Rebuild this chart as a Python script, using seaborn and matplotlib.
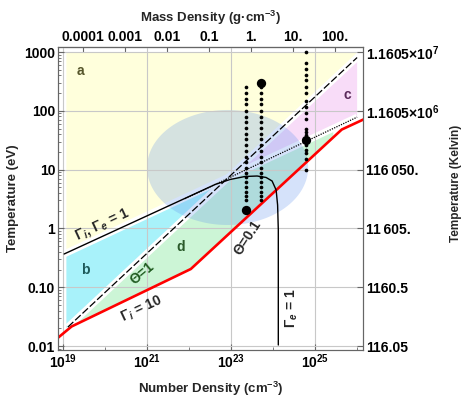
import numpy as np
import pandas as pd
import seaborn as sns
import matplotlib.pyplot as plt
from matplotlib.ticker import FixedLocator, FixedFormatter, NullLocator, LogLocator, NullFormatter

# boundary lines (n in cm^-3, T in eV)
gamma10_n = [7.2e18, 1.6e19, 1.1e22, 4.3e25, 1.4e26]
gamma10_T = [0.0134, 0.0215, 0.204, 48, 71]

theta1_n = [1.3e19, 1.0e26]
theta1_T = [0.021, 805]

gammae_n = [1.06e19, 4.16e22, 9.46e22, 2.15e23, 4.16e23, 6.81e23, 9.46e23, 1.18e24, 1.28e24, 1.33e24, 1.33e24]
gammae_T = [0.367, 5.58, 6.79, 7.64, 7.78, 7.35, 6.40, 4.50, 2.50, 0.94, 0.0104]

gammai_n = [8.0e21, 1.0e26]
gammai_T = [3.2, 78]

# white separators under the lines
sep_gamma_n = [1.06e19, 1.0e26]
sep_gamma_T = [0.367, 78]
sep_theta_n = [1.3e19, 1.37e26]
sep_theta_T = [0.021, 1000]

# regions
a_n = [1.2e19, 1.2e19, 1.37e26, 8.7e22]
a_T = [0.38, 1000, 1000, 7.4]
b_n = [1.2e19, 1.2e19, 8.7e22]
b_T = [0.02, 0.38, 7.4]
c_n = [8.7e22, 1.0e26, 1.0e26]
c_T = [7.4, 805, 78]
d_n = [1.4e19, 8.7e22, 2.7e25, 2.7e25, 1.1e22, 1.6e19]
d_T = [0.021, 7.4, 50, 35.4, 0.204, 0.0215]

# ellipse (log10 n, log10 T) centre and half widths in decades
ell_center = (22.917, 1.036)
ell_radius = (1.917, 0.978)

# simulation points
col_n = [2.28e23, 5.2e23, 6.0e24]
col1_T = [257, 203, 161, 129, 100, 79, 64, 52, 41, 33, 26, 21, 16.6, 13.5, 10.8, 8.9, 7.4, 6.2, 5.1, 4.2, 3.6, 3.0]
col2_T = [257, 203, 161, 129, 100, 79, 64, 52, 41, 33, 26, 21, 16.6, 13.5, 10.8, 8.9, 7.4, 6.2, 5.1, 4.2, 3.6, 3.0]
col3_T = [988, 642, 508, 406, 334, 257, 203, 147, 117, 93, 73, 50, 44, 39, 34, 26, 21.5, 19, 15, 10]
big_n = [2.28e23, 5.2e23, 6.0e24]
big_T = [2.06, 300, 32]

T_ticks = [0.01, 0.1, 1, 10, 100, 1000]
T_labels = ["0.01", "0.10", "1", "10", "100", "1000"]
K_labels = ["116.05", "1160.5", "11\u2009605.", "116\u2009050.", "1.1605\u00d710$^{6}$", "1.1605\u00d710$^{7}$"]
n_ticks = [1e19, 1e21, 1e23, 1e25]
n_labels = ["10$^{19}$", "10$^{21}$", "10$^{23}$", "10$^{25}$"]
rho_ticks = [1e-4, 1e-3, 1e-2, 0.1, 1, 10, 100]
rho_labels = ["0.0001", "0.001", "0.01", "0.1", "1.", "10.", "100."]
n_per_rho = 3.011e23

sns.set_style("white")
plt.rcParams['font.family'] = ['Liberation Sans', 'DejaVu Sans']
plt.rcParams['font.weight'] = 'bold'
plt.rcParams['axes.labelweight'] = 'bold'
plt.rcParams['mathtext.fontset'] = 'custom'
plt.rcParams['mathtext.rm'] = 'Liberation Sans:bold'
plt.rcParams['mathtext.it'] = 'Liberation Sans:italic:bold'
plt.rcParams['mathtext.bf'] = 'Liberation Sans:bold'

fig = plt.figure(figsize=(4.69, 3.99), dpi=100)
ax = fig.add_axes([0.1237, 0.1228, 0.6503, 0.7594])
ax.set_xscale('log')
ax.set_yscale('log')
ax.set_xlim(10**18.88, 10**26.14)
ax.set_ylim(10**-2.068, 10**3.085)

ax.fill(a_n, a_T, color='#ffffdc', lw=0, zorder=1)
ax.fill(b_n, b_T, color='#a8f2fa', lw=0, zorder=1)
ax.fill(c_n, c_T, color='#f8dcf8', lw=0, zorder=1)
ax.fill(d_n, d_T, color='#ccf5d6', lw=0, zorder=1)

ax.plot(sep_gamma_n, sep_gamma_T, color='white', lw=5, zorder=1.5, solid_capstyle='butt')
ax.plot(sep_theta_n, sep_theta_T, color='white', lw=5, zorder=1.5, solid_capstyle='butt')

t = np.linspace(0, 2 * np.pi, 200)
ax.fill(10**(ell_center[0] + ell_radius[0] * np.cos(t)),
        10**(ell_center[1] + ell_radius[1] * np.sin(t)),
        color='cornflowerblue', alpha=0.27, lw=0, zorder=2)

ax.grid(True, which='major', color='#c8c8c8', lw=0.8)
ax.set_axisbelow(False)

sns.lineplot(x=gamma10_n, y=gamma10_T, ax=ax, sort=False, estimator=None, color='red', lw=1.9, zorder=4)
sns.lineplot(x=theta1_n, y=theta1_T, ax=ax, sort=False, estimator=None, color='black', lw=0.9, linestyle=(0, (6, 2)), zorder=4)
sns.lineplot(x=gammae_n, y=gammae_T, ax=ax, sort=False, estimator=None, color='black', lw=1.0, zorder=4)
sns.lineplot(x=gammai_n, y=gammai_T, ax=ax, sort=False, estimator=None, color='black', lw=0.9, linestyle=(0, (1, 1)), zorder=4)

dots = pd.DataFrame({
    'n': [col_n[0]] * len(col1_T) + [col_n[1]] * len(col2_T) + [col_n[2]] * len(col3_T),
    'T': col1_T + col2_T + col3_T,
})
sns.scatterplot(data=dots, x='n', y='T', ax=ax, color='black', s=7, linewidth=0, zorder=5)
sns.scatterplot(x=big_n, y=big_T, ax=ax, color='black', s=45, linewidth=0, zorder=5)

ax.text(10**19.405, 10**2.677, 'a', color='#55552a', fontsize=10, ha='center', va='center', zorder=6)
ax.text(10**19.524, 10**-0.707, 'b', color='#1d5a5a', fontsize=10, ha='center', va='center', zorder=6)
ax.text(10**25.762, 10**2.269, 'c', color='#5a2a5a', fontsize=10, ha='center', va='center', zorder=6)
ax.text(10**21.81, 10**-0.316, 'd', color='#2a5a2a', fontsize=10, ha='center', va='center', zorder=6)

ax.text(10**19.921, 10**0.075, '\u0393$_i$, \u0393$_e$ = 1', rotation=25, ha='center', va='center', fontsize=10, zorder=6)
ax.text(10**20.893, 10**-0.764, '\u0398=1', rotation=40, ha='center', va='center', fontsize=10, color='#1f5a1f', zorder=6)
ax.text(10**20.874, 10**-1.371, '\u0393$_i$ = 10', rotation=25, ha='center', va='center', fontsize=10, zorder=6)
ax.text(10**23.381, 10**-0.15, '\u0398=0.1', rotation=57, ha='center', va='center', fontsize=10, zorder=6)
ax.text(10**24.445, 10**-1.359, '\u0393$_e$ = 1', rotation=90, ha='center', va='center', fontsize=10, zorder=6)

ax.xaxis.set_major_locator(FixedLocator(n_ticks))
ax.xaxis.set_major_formatter(FixedFormatter(n_labels))
ax.xaxis.set_minor_locator(FixedLocator([1e20, 1e22, 1e24, 1e26]))
ax.xaxis.set_minor_formatter(NullFormatter())
ax.yaxis.set_major_locator(FixedLocator(T_ticks))
ax.yaxis.set_major_formatter(FixedFormatter(T_labels))
ax.yaxis.set_minor_locator(LogLocator(base=10, subs=np.arange(2, 10)))
ax.yaxis.set_minor_formatter(NullFormatter())
ax.tick_params(which='both', direction='in', colors='#666666', labelcolor='black', labelsize=10, bottom=True, left=True, pad=2)
ax.tick_params(which='major', length=4)
ax.tick_params(which='minor', length=2)
ax.set_xlabel('Number Density (cm$^{-3}$)', fontsize=9.5, labelpad=6)
ax.set_ylabel('Temperature (eV)', fontsize=9.5, labelpad=4)

ax2 = ax.twinx()
ax2.set_yscale('log')
ax2.set_ylim(ax.get_ylim())
ax2.yaxis.set_major_locator(FixedLocator(T_ticks))
ax2.yaxis.set_major_formatter(FixedFormatter(K_labels))
ax2.yaxis.set_minor_locator(NullLocator())
ax2.tick_params(direction='in', length=4, colors='#666666', labelcolor='black', labelsize=10, right=True, pad=2)
ax2.set_ylabel('Temperature (Kelvin)', fontsize=8.5)
ax2.yaxis.set_label_coords(1.285, 0.55)

secax = ax.secondary_xaxis('top', functions=(lambda n: n / n_per_rho, lambda r: r * n_per_rho))
secax.xaxis.set_major_locator(FixedLocator(rho_ticks))
secax.xaxis.set_major_formatter(FixedFormatter(rho_labels))
secax.xaxis.set_minor_locator(NullLocator())
secax.tick_params(direction='in', length=4, colors='#666666', labelcolor='black', labelsize=10, pad=2)
secax.set_xlabel('Mass Density (g\u00b7cm$^{-3}$)', fontsize=9.5, labelpad=6)

for sp in list(ax.spines.values()) + list(ax2.spines.values()) + list(secax.spines.values()):
    sp.set_color('#666666')
    sp.set_linewidth(0.8)

fig.savefig('out.png', dpi=100)
